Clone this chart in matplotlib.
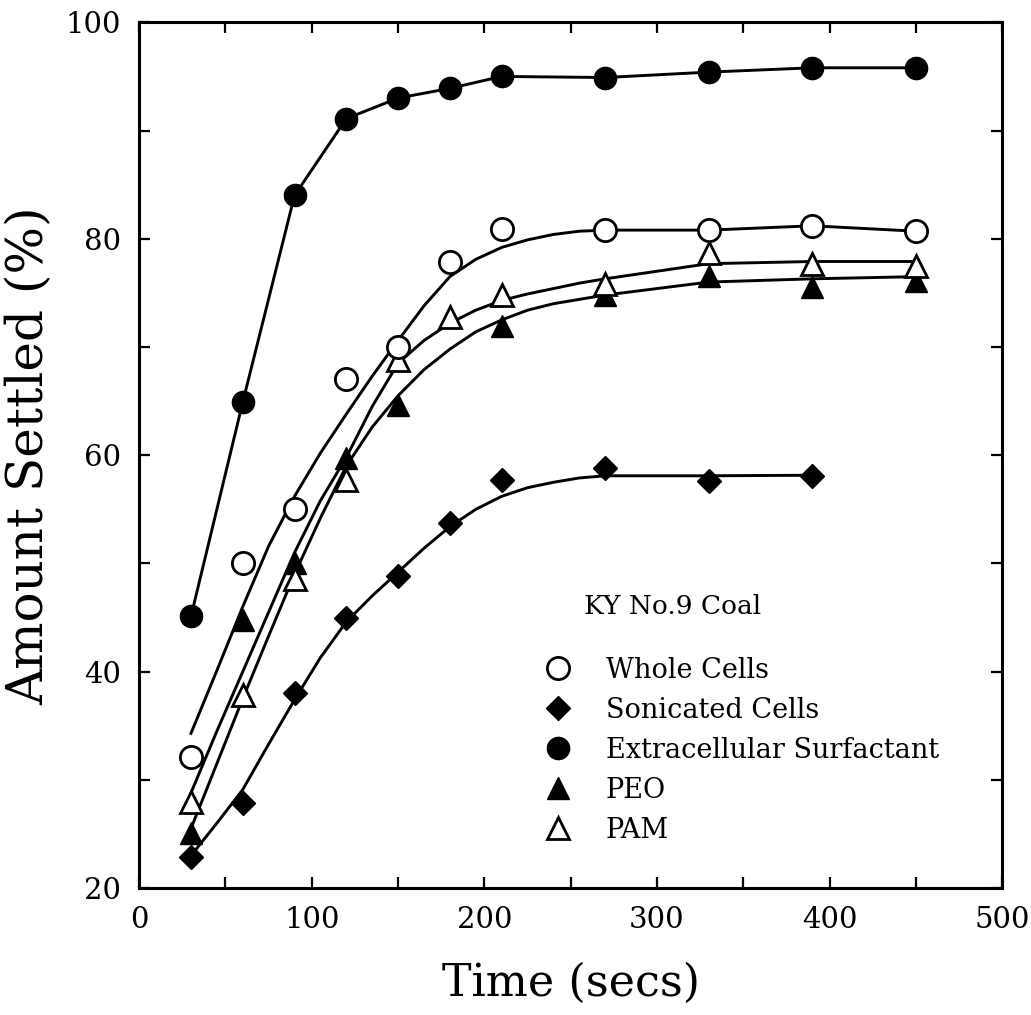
import matplotlib
matplotlib.use('Agg')
import matplotlib.pyplot as plt
from matplotlib.lines import Line2D
from matplotlib.ticker import MultipleLocator

plt.rcParams['font.family'] = ['DejaVu Serif']

# measured points (time in secs, amount settled in %)
t_all = [30, 60, 90, 120, 150, 180, 210, 270, 330, 390, 450]
whole = [32.1, 50.0, 55.0, 67.0, 70.0, 77.9, 80.9, 80.8, 80.8, 81.2, 80.7]
extra = [45.1, 64.9, 84.0, 91.1, 93.0, 93.9, 95.0, 94.9, 95.4, 95.8, 95.8]
pam = [28.0, 37.8, 48.6, 57.7, 68.8, 72.8, 74.8, 75.8, 78.7, 77.7, 77.5]

t_son = [30, 60, 90, 120, 150, 180, 210, 270, 330, 390]
sonic = [22.9, 27.9, 38.0, 45.0, 48.8, 53.7, 57.7, 58.8, 57.6, 58.1]

t_peo = [30, 60, 90, 120, 150, 210, 270, 330, 390, 450]
peo = [25.1, 44.8, 50.0, 59.7, 64.6, 71.9, 74.8, 76.6, 75.5, 76.1]

# fitted curves as drawn in the figure
t_fit = [30, 45, 60, 75, 90, 105, 120, 135, 150, 165, 180, 195, 210,
         225, 240, 255, 270, 330, 390, 450]
whole_fit = [34.3, 40.1, 46.0, 51.6, 56.2, 60.2, 63.8, 67.3, 70.6, 73.8, 76.5,
             78.1, 79.2, 79.9, 80.4, 80.7, 80.8, 80.8, 81.2, 80.7]
pam_fit = [28.8, 34.5, 40.0, 45.5, 51.0, 55.8, 59.8, 64.5, 68.5, 70.6, 72.2,
           73.4, 74.3, 74.9, 75.4, 75.9, 76.3, 77.7, 77.9, 77.9]
peo_fit = [25.5, 31.5, 37.5, 43.3, 49.0, 54.2, 59.0, 62.6, 65.5, 67.9, 69.8,
           71.4, 72.5, 73.4, 74.0, 74.4, 74.8, 76.0, 76.3, 76.5]
sonic_fit = [23.0, 26.0, 29.1, 33.3, 37.4, 41.3, 44.6, 47.0, 49.2, 51.4, 53.4,
             55.0, 56.2, 57.0, 57.5, 57.9, 58.1, 58.1, 58.15]
t_sfit = t_fit[:-1]

fig = plt.figure(figsize=(10.31, 10.15), dpi=100)
ax = fig.add_axes([0.135, 0.125, 0.837, 0.853])

lw = 2.1
ax.plot(t_fit, whole_fit, color='black', lw=lw, zorder=2)
ax.plot(t_fit, pam_fit, color='black', lw=lw, zorder=2)
ax.plot(t_fit, peo_fit, color='black', lw=lw, zorder=2)
ax.plot(t_sfit, sonic_fit, color='black', lw=lw, zorder=2)
ax.plot(t_all, extra, color='black', lw=lw, zorder=2)

ms = 16
dms = 12.5
ax.plot(t_all, extra, 'o', ms=ms, mfc='black', mec='black', zorder=3)
ax.plot(t_son, sonic, 'D', ms=dms, mfc='black', mec='black', zorder=3)
ax.plot(t_peo, peo, '^', ms=ms, mfc='black', mec='black', zorder=3)
ax.plot(t_all, pam, '^', ms=ms, mfc='white', mec='black', mew=2, zorder=4)
ax.plot(t_all, whole, 'o', ms=ms, mfc='white', mec='black', mew=2, zorder=4)

ax.set_xlim(0, 500)
ax.set_ylim(20, 100)
ax.xaxis.set_major_locator(MultipleLocator(100))
ax.xaxis.set_minor_locator(MultipleLocator(50))
ax.yaxis.set_major_locator(MultipleLocator(20))
ax.yaxis.set_minor_locator(MultipleLocator(10))
ax.tick_params(which='both', direction='in', top=True, right=True,
               length=8, width=1.6, labelsize=21, pad=13)
for s in ax.spines.values():
    s.set_linewidth(2.2)

ax.set_xlabel('Time (secs)', fontsize=32, labelpad=20)
ax.set_ylabel('Amount Settled (%)', fontsize=36, labelpad=8)

# legend
ax.text(0.515, 0.325, 'KY No.9 Coal', transform=ax.transAxes,
        fontsize=19, va='center', ha='left')
handles = [
    Line2D([], [], ls='none', marker='o', ms=ms, mfc='white', mec='black', mew=2),
    Line2D([], [], ls='none', marker='D', ms=dms, mfc='black', mec='black'),
    Line2D([], [], ls='none', marker='o', ms=ms, mfc='black', mec='black'),
    Line2D([], [], ls='none', marker='^', ms=ms, mfc='black', mec='black'),
    Line2D([], [], ls='none', marker='^', ms=ms, mfc='white', mec='black', mew=2),
]
labels = ['Whole Cells', 'Sonicated Cells', 'Extracellular Surfactant',
          'PEO', 'PAM']
ax.legend(handles, labels, loc='upper left', bbox_to_anchor=(0.47, 0.267),
          frameon=False, fontsize=19.5, handlelength=1.0, handletextpad=1.25,
          labelspacing=0.48, borderpad=0, borderaxespad=0)

fig.savefig('out.png', dpi=100)
